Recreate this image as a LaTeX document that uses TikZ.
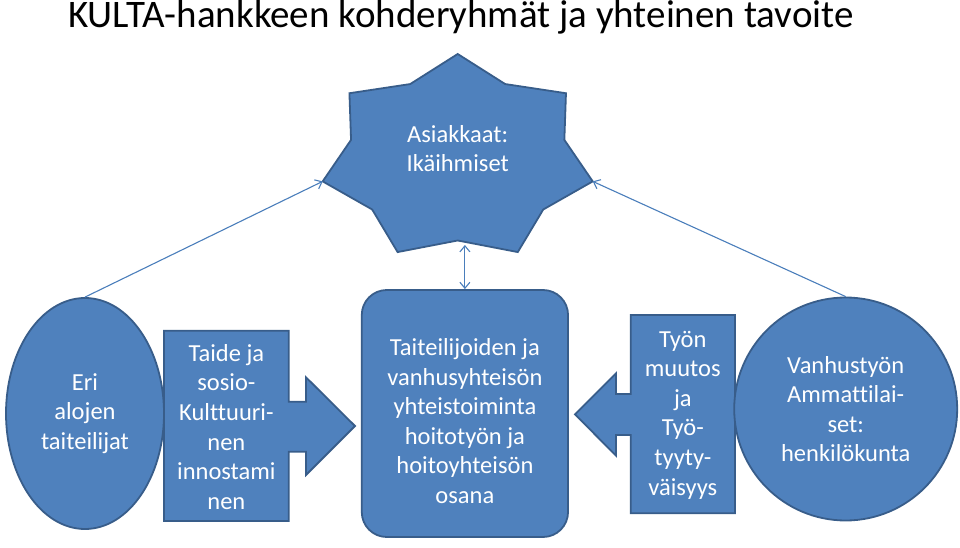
\documentclass[tikz,border=0pt]{standalone}
\usepackage{fontspec}
\setmainfont{Carlito}[Ligatures=NoCommon]
\usepackage{tikz}
\usetikzlibrary{shapes.geometric, arrows.meta}

\definecolor{boxblue}{HTML}{4F81BD}
\definecolor{edgeblue}{HTML}{385D8A}
\definecolor{linkblue}{HTML}{4A7EBB}

\tikzset{
    blob/.style={fill=boxblue, draw=edgeblue, line width=1.8pt},
    boxtext/.style={text=white, align=center, inner sep=0pt,
        font={\fontsize{24.5}{29.6}\selectfont}},
    link/.style={draw=linkblue, line width=1.1pt,
        -{Straight Barb[length=6pt,width=10pt]}}
}

\begin{document}
\begin{tikzpicture}[x=1pt, y=1pt]
    % Fix the page size
    \useasboundingbox (0,0) rectangle (960,547);

    % Title
    \node[anchor=base west, inner sep=0pt, font={\fontsize{39}{43}\selectfont}] (title) at (68,519.7)
        {KULTA-hankkeen kohderyhmät ja yhteinen tavoite};

    % The star for the clients
    \begin{scope}[shift={(457.7,388.8)}]
        \filldraw[blob] (90:138.5pt and 104.2pt) \foreach \k in {0,...,5}{
            -- ({90+\k*360/7+180/7}:109.4pt and 82.3pt)
            -- ({90+(\k+1)*360/7}:138.5pt and 104.2pt) }
            -- ({90+6*360/7+180/7}:109.4pt and 82.3pt) -- cycle;
        \coordinate (starleft) at (192.857:138.5pt and 104.2pt);
        \coordinate (starright) at (347.143:138.5pt and 104.2pt);
    \end{scope}
    \coordinate (starbase) at (464.9,302);
    \node[boxtext] (clients) at (457.7,398.3) {Asiakkaat:\\Ikäihmiset};

    % Artists
    \node[blob, ellipse, boxtext, minimum width=158pt, minimum height=231pt] (artists) at (85,133.5)
        {Eri\\alojen\\taiteilijat};

    % Left arrow box
    \filldraw[blob] (164,216.3) -- (288.7,216.3) -- (288.7,145.3) -- (306,145.3) -- (306,169.7)
        -- (355,121) -- (306,72) -- (306,95.3) -- (288.7,95.3) -- (288.7,26) -- (164,26) -- cycle;
    \node[boxtext] (culture) at (226.4,120.2)
        {Taide ja\\sosio-\\Kulttuuri-\\nen\\innostami\\nen};

    % Centre box
    \node[blob, rounded corners=25pt, minimum width=206.3pt, minimum height=247pt] (coop) at (464.9,133.5) {};
    \node[boxtext] (cooptext) at (464.9,126)
        {Taiteilijoiden ja\\vanhusyhteisön\\yhteistoiminta\\hoitotyön ja\\hoitoyhteisön\\osana};

    % Right arrow box
    \filldraw[blob] (735,232) -- (630.7,232) -- (630.7,153) -- (616,153) -- (616,173.7)
        -- (575,132.7) -- (616,91.3) -- (616,112) -- (630.7,112) -- (630.7,33.7) -- (735,33.7) -- cycle;
    \node[boxtext] (change) at (682.8,132)
        {Työn\\muutos\\ja\\Työ-\\tyyty-\\väisyys};

    % Staff
    \node[blob, circle, boxtext, minimum size=223pt] (staff) at (845.7,138)
        {Vanhustyön\\Ammattilai-\\set:\\henkilökunta};

    % Connectors to the star
    \draw[link] (artists.north) -- (starleft);
    \draw[link] (staff.north) -- (starright);
    \draw[link, {Straight Barb[length=6pt,width=10pt]}-{Straight Barb[length=6pt,width=10pt]}] (coop.north) -- (starbase);

\end{tikzpicture}
\end{document}
